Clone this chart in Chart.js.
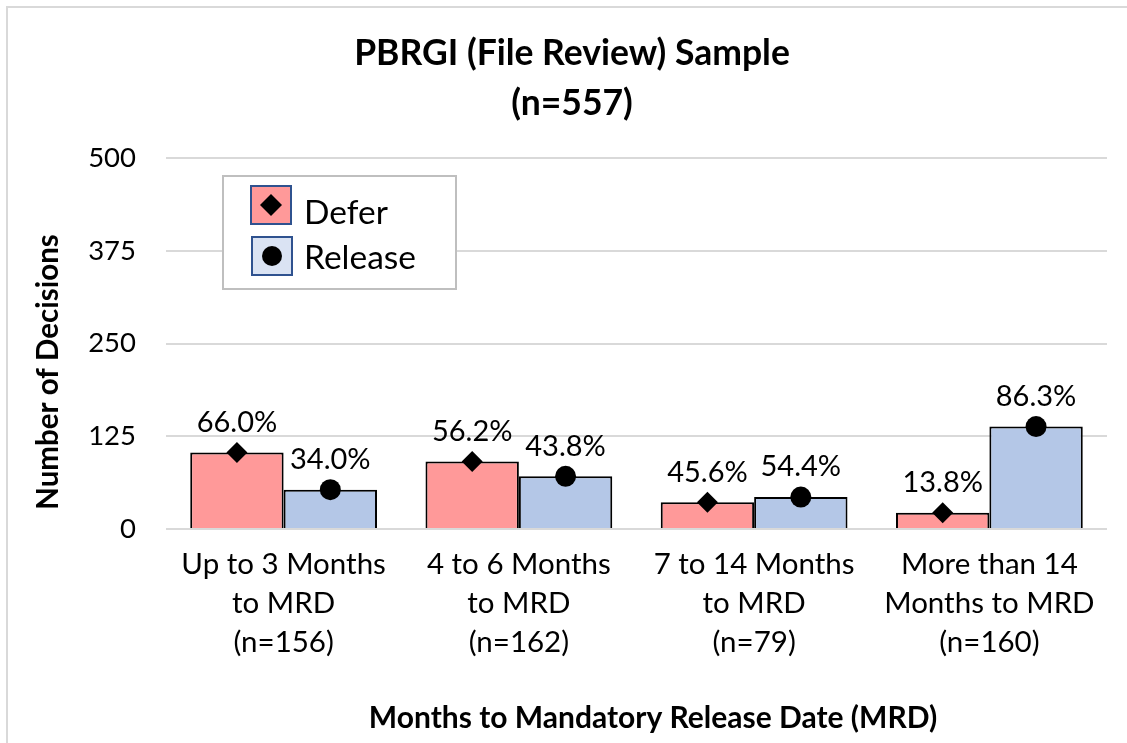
<!DOCTYPE html>
<html>
<head>
<meta charset="utf-8">
<script src="https://cdn.jsdelivr.net/npm/chart.js@4.4.1/dist/chart.umd.min.js"></script>
<style>
html,body{margin:0;padding:0;background:#fff;}
#wrap{position:absolute;left:0;top:0;width:1127px;height:743px;}
</style>
</head>
<body>
<div id="wrap"><canvas id="c" width="1127" height="743"></canvas></div>
<script>
const categories = [
  ["Up to 3 Months", "to MRD", "(n=156)"],
  ["4 to 6 Months", "to MRD", "(n=162)"],
  ["7 to 14 Months", "to MRD", "(n=79)"],
  ["More than 14", "Months to MRD", "(n=160)"]
];
const deferCounts = [103, 91, 36, 22];
const releaseCounts = [53, 71, 43, 138];
const deferPct = ["66.0%", "56.2%", "45.6%", "13.8%"];
const releasePct = ["34.0%", "43.8%", "54.4%", "86.3%"];
const yTicks = [0, 125, 250, 375, 500];
const titleLines = ["PBRGI (File Review) Sample", "(n=557)"];
const yTitle = "Number of Decisions";
const xTitle = "Months to Mandatory Release Date (MRD)";
const seriesNames = ["Defer", "Release"];

const FONT = "Lato";

function drawMarker(ctx, style, x, y, r) {
  ctx.save();
  ctx.fillStyle = "#000";
  ctx.beginPath();
  if (style === "diamond") {
    ctx.moveTo(x, y - r);
    ctx.lineTo(x + r, y);
    ctx.lineTo(x, y + r);
    ctx.lineTo(x - r, y);
    ctx.closePath();
  } else {
    ctx.arc(x, y, r, 0, Math.PI * 2);
  }
  ctx.fill();
  ctx.restore();
}

const decorPlugin = {
  id: "decor",
  beforeDraw(chart) {
    const ctx = chart.ctx;
    ctx.save();
    ctx.fillStyle = "#fff";
    ctx.fillRect(0, 0, chart.width, chart.height);
    ctx.strokeStyle = "#D9D9D9";
    ctx.lineWidth = 2;
    ctx.beginPath();
    ctx.moveTo(7, 760);
    ctx.lineTo(7, 7);
    ctx.lineTo(1140, 7);
    ctx.stroke();
    ctx.restore();
  },
  afterDatasetsDraw(chart) {
    const ctx = chart.ctx;
    const styles = ["diamond", "circle"];
    const pcts = [deferPct, releasePct];
    chart.data.datasets.forEach((ds, di) => {
      const meta = chart.getDatasetMeta(di);
      meta.data.forEach((bar, i) => {
        drawMarker(ctx, styles[di], bar.x, bar.y, 10.5);
        ctx.save();
        ctx.fillStyle = "#000";
        ctx.font = "29px " + FONT;
        ctx.textAlign = "center";
        ctx.textBaseline = "middle";
        ctx.fillText(pcts[di][i], bar.x, bar.y - 30);
        ctx.restore();
      });
    });
  },
  afterDraw(chart) {
    const ctx = chart.ctx;
    ctx.save();
    // Title
    ctx.fillStyle = "#000";
    ctx.textAlign = "center";
    ctx.textBaseline = "middle";
    ctx.font = "bold 35.5px " + FONT;
    ctx.fillText(titleLines[0], 572, 54);
    ctx.fillText(titleLines[1], 572, 104);
    // X axis title
    ctx.font = "bold 30px " + FONT;
    ctx.fillText(xTitle, 653, 718);
    // Y axis title
    ctx.save();
    ctx.font = "bold 29.5px " + FONT;
    ctx.translate(48, 372);
    ctx.rotate(-Math.PI / 2);
    ctx.fillText(yTitle, 0, 0);
    ctx.restore();
    // Legend
    ctx.fillStyle = "#fff";
    ctx.fillRect(223, 176, 233, 113);
    ctx.strokeStyle = "#BFBFBF";
    ctx.lineWidth = 2;
    ctx.strokeRect(223, 176, 233, 113);
    const sw = [
      {x: 251, y: 186, fill: "#FF9999", style: "diamond", base: 224},
      {x: 252, y: 237, fill: "#DAE3F3", style: "circle", base: 269}
    ];
    sw.forEach((s, k) => {
      ctx.fillStyle = s.fill;
      ctx.fillRect(s.x, s.y, 40, 38);
      ctx.strokeStyle = "#2F528F";
      ctx.lineWidth = 2;
      ctx.strokeRect(s.x, s.y, 40, 38);
      drawMarker(ctx, s.style, s.x + 20, s.y + 19, s.style === "diamond" ? 11 : 10);
      ctx.fillStyle = "#000";
      ctx.font = "33.5px " + FONT;
      ctx.textAlign = "left";
      ctx.textBaseline = "alphabetic";
      ctx.fillText(seriesNames[k], 304, s.base);
    });
    ctx.restore();
  }
};

new Chart(document.getElementById("c"), {
  type: "bar",
  data: {
    labels: categories,
    datasets: [
      {label: seriesNames[0], data: deferCounts, backgroundColor: "#FF9999", borderColor: "#000", borderWidth: 2},
      {label: seriesNames[1], data: releaseCounts, backgroundColor: "#B4C7E7", borderColor: "#000", borderWidth: 2}
    ]
  },
  options: {
    responsive: false,
    devicePixelRatio: 1,
    animation: false,
    layout: {padding: {left: 0, top: 158, right: 20, bottom: 0}},
    datasets: {bar: {categoryPercentage: 0.794, barPercentage: 1}},
    plugins: {legend: {display: false}, title: {display: false}, tooltip: {enabled: false}},
    scales: {
      x: {
        grid: {display: false, drawTicks: false},
        border: {display: false},
        ticks: {font: {family: FONT, size: 29.5, lineHeight: 1.32}, color: "#000", padding: 16, maxRotation: 0, autoSkip: false},
        afterFit(s) { s.height = 214; }
      },
      y: {
        min: 0, max: 500,
        afterBuildTicks(s) { s.ticks = yTicks.map(v => ({value: v})); },
        grid: {color: "#D9D9D9", lineWidth: 2, drawTicks: false},
        border: {display: false},
        ticks: {font: {family: FONT, size: 27.5}, color: "#000", padding: 30},
        afterFit(s) { s.width = 166; }
      }
    }
  },
  plugins: [decorPlugin]
});
</script>
</body>
</html>
